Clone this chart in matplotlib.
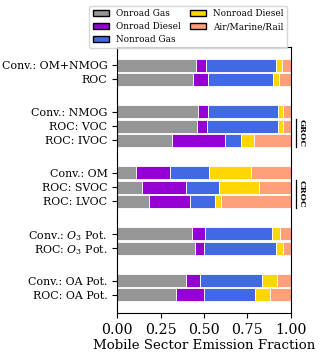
import numpy as np
import matplotlib
matplotlib.use('Agg')
import matplotlib.pyplot as plt
from matplotlib.patches import Patch

plt.rcParams['font.family'] = 'DejaVu Serif'
plt.rcParams['mathtext.fontset'] = 'dejavuserif'

# 行标签
labels = ['Conv.: OM+NMOG', 'ROC',
          'Conv.: NMOG', 'ROC: VOC', 'ROC: IVOC',
          'Conv.: OM', 'ROC: SVOC', 'ROC: LVOC',
          'Conv.: $O_3$ Pot.', 'ROC: $O_3$ Pot.',
          'Conv.: OA Pot.', 'ROC: OA Pot.']
ypos = [0, 1, 3.3, 4.3, 5.3, 7.6, 8.6, 9.6, 11.9, 12.9, 15.2, 16.2]

sectors = ['Onroad Gas', 'Onroad Diesel', 'Nonroad Gas', 'Nonroad Diesel', 'Air/Marine/Rail']
colors = ['#969696', '#9400D3', '#4169E1', '#FFD700', '#FFA07A']

# 累积分数
cum_onroad_gas = [0.452, 0.439, 0.468, 0.462, 0.313, 0.107, 0.143, 0.183, 0.429, 0.448, 0.397, 0.340]
cum_onroad_diesel = [0.511, 0.523, 0.523, 0.517, 0.620, 0.305, 0.395, 0.420, 0.506, 0.498, 0.475, 0.500]
cum_nonroad_gas = [0.912, 0.895, 0.927, 0.927, 0.712, 0.529, 0.584, 0.563, 0.893, 0.916, 0.834, 0.796]
cum_nonroad_diesel = [0.947, 0.931, 0.954, 0.954, 0.786, 0.771, 0.817, 0.599, 0.939, 0.952, 0.918, 0.878]

cum = np.array([np.zeros(len(labels)), cum_onroad_gas, cum_onroad_diesel,
                cum_nonroad_gas, cum_nonroad_diesel, np.ones(len(labels))])

fig = plt.figure(figsize=(3.2, 3.54), dpi=100)
ax = fig.add_axes([0.366, 0.116, 0.543, 0.751])

for i in range(5):
    ax.barh(ypos, cum[i + 1] - cum[i], left=cum[i], height=0.92,
            color=colors[i], edgecolor='white', linewidth=0.6)

ax.set_yticks(ypos)
ax.set_yticklabels(labels, fontsize=7.9)
ax.set_ylim(ypos[-1] + 1.27, -1.27)
ax.set_xlim(0, 1)
ax.set_xticks([0, 0.25, 0.5, 0.75, 1.0])
ax.set_xticklabels(['0.00', '0.25', '0.50', '0.75', '1.00'], fontsize=10.2)
ax.set_xlabel('Mobile Sector Emission Fraction', fontsize=9.6, labelpad=2)

# 右侧分组标注
for txt, yc in [('GROC', 4.8), ('CROC', 9.1)]:
    ax.text(1.04, yc, txt, rotation=-90, fontsize=6, fontweight='bold',
            ha='left', va='center', transform=ax.get_yaxis_transform())
    ax.plot([1.03, 1.03], [yc - 1.0, yc + 1.0], color='black', lw=0.9,
            transform=ax.get_yaxis_transform(), clip_on=False)

handles = [Patch(facecolor=c, edgecolor='black', label=s) for c, s in zip(colors, sectors)]
fig.legend(handles=handles, loc='upper right',
           bbox_to_anchor=(0.912, 0.996), ncol=2, fontsize=6.4,
           handlelength=1.8, columnspacing=1.1, labelspacing=0.45)

fig.savefig('out.png', dpi=100)
